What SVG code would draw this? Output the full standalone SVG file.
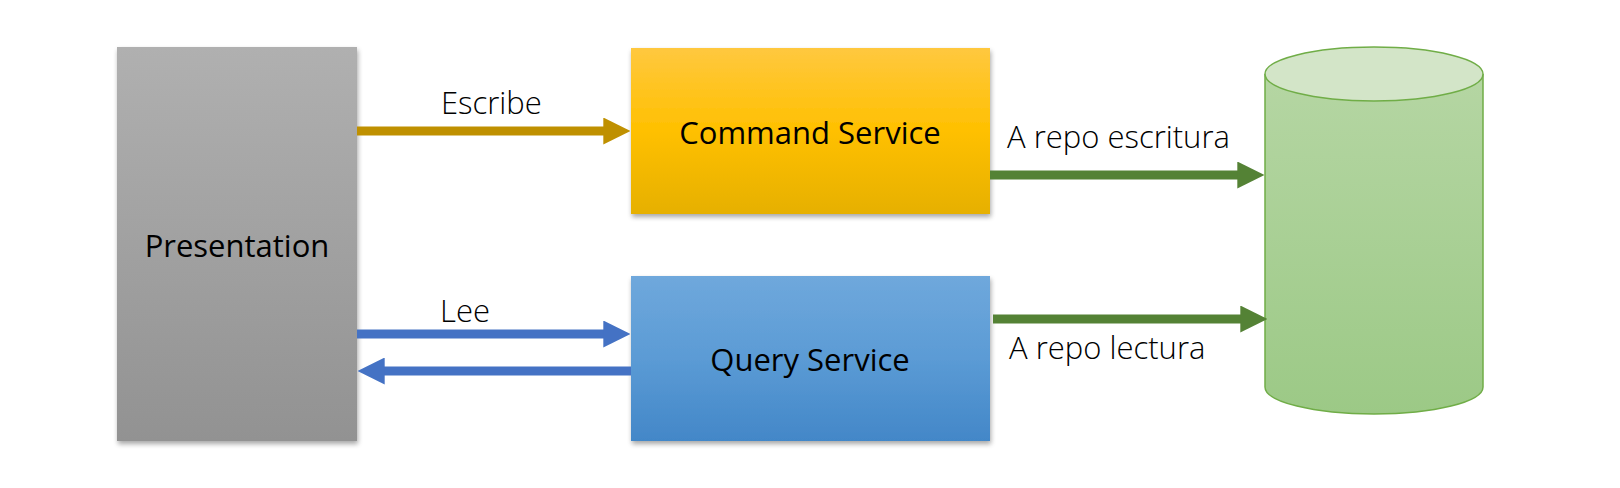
<svg xmlns="http://www.w3.org/2000/svg" width="1620" height="488" viewBox="0 0 1620 488">
<style>
.lbl{font-family:"Open Sans","Liberation Sans",sans-serif;font-weight:300;font-size:31px;fill:#000}
.nt{font-family:"Open Sans","Liberation Sans",sans-serif;font-size:31px;fill:#000;text-anchor:middle}
.c{fill:none;stroke-width:9}
</style>
<defs>
<linearGradient id="gGray" x1="0" y1="0" x2="0" y2="1"><stop offset="0" stop-color="#B0B0B0"/><stop offset="1" stop-color="#929292"/></linearGradient>
<linearGradient id="gGold" x1="0" y1="0" x2="0" y2="1"><stop offset="0" stop-color="#FFC83F"/><stop offset="0.5" stop-color="#FFC000"/><stop offset="1" stop-color="#E6B000"/></linearGradient>
<linearGradient id="gBlue" x1="0" y1="0" x2="0" y2="1"><stop offset="0" stop-color="#6FA8DC"/><stop offset="0.5" stop-color="#5B9BD5"/><stop offset="1" stop-color="#4387C8"/></linearGradient>
<linearGradient id="gGreen" x1="0" y1="0" x2="0" y2="1"><stop offset="0" stop-color="#B5D6A3"/><stop offset="1" stop-color="#9CC986"/></linearGradient>
<filter id="sh" x="-10%" y="-10%" width="125%" height="125%"><feGaussianBlur in="SourceAlpha" stdDeviation="2.5"/><feOffset dx="1" dy="3"/><feComponentTransfer><feFuncA type="linear" slope="0.35"/></feComponentTransfer><feMerge><feMergeNode/><feMergeNode in="SourceGraphic"/></feMerge></filter>
<marker id="aGold" viewBox="0 0 10 10" refX="1" refY="5" markerUnits="userSpaceOnUse" markerWidth="27" markerHeight="27" orient="auto"><path d="M0,0L10,5L0,10z" fill="#BF9000"/></marker>
<marker id="aBlue" viewBox="0 0 10 10" refX="1" refY="5" markerUnits="userSpaceOnUse" markerWidth="27" markerHeight="27" orient="auto"><path d="M0,0L10,5L0,10z" fill="#4472C4"/></marker>
<marker id="aGreen" viewBox="0 0 10 10" refX="1" refY="5" markerUnits="userSpaceOnUse" markerWidth="27" markerHeight="27" orient="auto"><path d="M0,0L10,5L0,10z" fill="#548235"/></marker>
</defs>
<rect width="1620" height="488" fill="#fff"/>
<g id="presentation">
<rect x="117" y="47" width="240" height="394" fill="url(#gGray)" filter="url(#sh)"/>
<text class="nt" x="237" y="257">Presentation</text>
</g>
<g id="command-service">
<rect x="631" y="48" width="359" height="166" fill="url(#gGold)" filter="url(#sh)"/>
<text class="nt" x="810" y="144">Command Service</text>
</g>
<g id="query-service">
<rect x="631" y="276" width="359" height="165" fill="url(#gBlue)" filter="url(#sh)"/>
<text class="nt" x="810" y="371">Query Service</text>
</g>
<g id="repository">
<path d="M1265,74 L1265,387 A109,27 0 0 0 1483,387 L1483,74" fill="url(#gGreen)" stroke="#70AD47" stroke-width="1.5"/>
<ellipse cx="1374" cy="74" rx="109" ry="27" fill="#D3E5C8" stroke="#70AD47" stroke-width="1.5"/>
</g>
<g id="connectors">
<line class="c" x1="357" y1="131" x2="606" y2="131" stroke="#BF9000" marker-end="url(#aGold)"/>
<line class="c" x1="357" y1="334" x2="606" y2="334" stroke="#4472C4" marker-end="url(#aBlue)"/>
<line class="c" x1="631" y1="371" x2="382" y2="371" stroke="#4472C4" marker-end="url(#aBlue)"/>
<line class="c" x1="990" y1="175" x2="1240" y2="175" stroke="#548235" marker-end="url(#aGreen)"/>
<line class="c" x1="993" y1="319" x2="1243" y2="319" stroke="#548235" marker-end="url(#aGreen)"/>
<text class="lbl" x="441" y="114">Escribe</text>
<text class="lbl" x="440" y="322">Lee</text>
<text class="lbl" x="1007" y="148">A repo escritura</text>
<text class="lbl" x="1009" y="359">A repo lectura</text>
</g>
</svg>
